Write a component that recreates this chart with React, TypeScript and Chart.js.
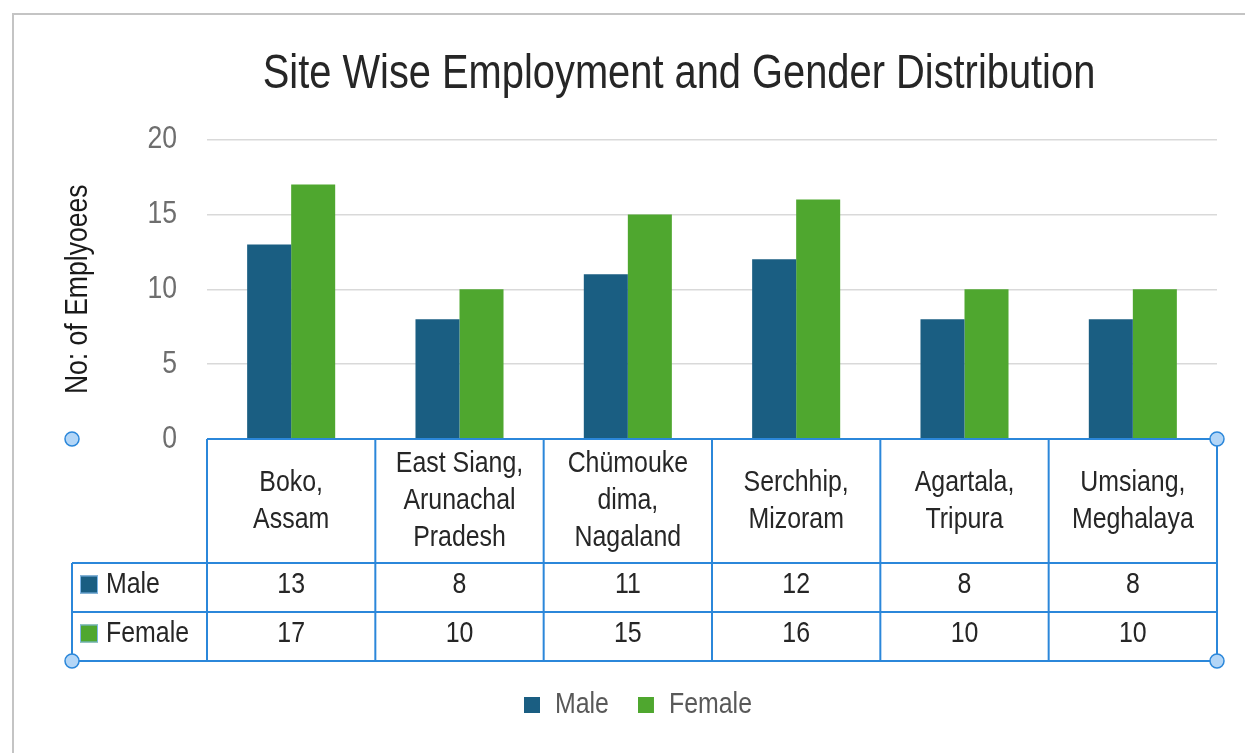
import React, { useEffect, useRef } from "react";
import { Chart, registerables } from "chart.js";

Chart.register(...registerables);

const categories: string[][] = [
  ["Boko,", "Assam"],
  ["East Siang,", "Arunachal", "Pradesh"],
  ["Chümouke", "dima,", "Nagaland"],
  ["Serchhip,", "Mizoram"],
  ["Agartala,", "Tripura"],
  ["Umsiang,", "Meghalaya"],
];
const seriesNames = ["Male", "Female"];
const maleValues = [13, 8, 11, 12, 8, 8];
const femaleValues = [17, 10, 15, 16, 10, 10];
const seriesColors = ["#1a5e82", "#4fa72f"];
const titleText = "Site Wise Employment and Gender Distribution";
const yTitleText = "No: of Emplyoees";

const FONT = "'Liberation Sans', Arial, sans-serif";
// horizontal condensing of all text (the reference uses a narrow face)
const SX = 0.83;

function condenseText(ctx: any) {
  if (ctx.__condensed) return;
  ctx.__condensed = true;
  const origFill = ctx.fillText.bind(ctx);
  const origMeasure = ctx.measureText.bind(ctx);
  ctx.fillText = (text: string, x: number, y: number, maxWidth?: number) => {
    ctx.save();
    ctx.translate(x, y);
    ctx.scale(SX, 1);
    if (maxWidth !== undefined && maxWidth !== null) origFill(text, 0, 0, maxWidth / SX);
    else origFill(text, 0, 0);
    ctx.restore();
  };
  ctx.measureText = (text: string) => {
    const m = origMeasure(text);
    return {
      width: m.width * SX,
      actualBoundingBoxAscent: m.actualBoundingBoxAscent,
      actualBoundingBoxDescent: m.actualBoundingBoxDescent,
      actualBoundingBoxLeft: m.actualBoundingBoxLeft * SX,
      actualBoundingBoxRight: m.actualBoundingBoxRight * SX,
      fontBoundingBoxAscent: m.fontBoundingBoxAscent,
      fontBoundingBoxDescent: m.fontBoundingBoxDescent,
    };
  };
}

const tablePlugin = {
  id: "dataTable",
  afterLayout(chart: any) {
    // centre the title a little right of the canvas centre, as in the reference
    const tb = chart.titleBlock;
    if (tb) {
      tb.left = 141;
      tb.right = chart.chartArea.right;
    }
  },
  beforeDraw(chart: any) {
    const { ctx, width, height } = chart;
    ctx.save();
    ctx.fillStyle = "#ffffff";
    ctx.fillRect(0, 0, width, height);
    ctx.strokeStyle = "#c4c4c4";
    ctx.lineWidth = 2;
    ctx.strokeRect(13, 14, width + 40, height + 40);
    ctx.restore();
  },
  afterDraw(chart: any) {
    const { ctx } = chart;
    const xs = chart.scales.x;
    const ca = chart.chartArea;
    const top = ca.bottom;
    const bottom = xs.bottom;
    const rowH = 49;
    const headerBottom = bottom - 2 * rowH;
    const n = categories.length;
    const step = xs.getPixelForValue(1) - xs.getPixelForValue(0);
    const legendLeft = 72;
    const left = ca.left;
    const right = ca.right;
    const rows = [maleValues, femaleValues];

    ctx.save();
    ctx.strokeStyle = "#2b87da";
    ctx.lineWidth = 2;
    ctx.beginPath();
    ctx.moveTo(left, top);
    ctx.lineTo(right, top);
    for (let r = 0; r <= 2; r++) {
      const y = headerBottom + r * rowH;
      ctx.moveTo(legendLeft, y);
      ctx.lineTo(right, y);
    }
    for (let i = 0; i <= n; i++) {
      const x = i === n ? right : xs.getPixelForValue(i) - step / 2;
      ctx.moveTo(x, top);
      ctx.lineTo(x, bottom);
    }
    ctx.moveTo(legendLeft, headerBottom);
    ctx.lineTo(legendLeft, bottom);
    ctx.stroke();

    ctx.fillStyle = "#262626";
    ctx.font = `30px ${FONT}`;
    ctx.textAlign = "center";
    ctx.textBaseline = "middle";
    const lh = 37;
    const hc = (top + headerBottom) / 2;
    categories.forEach((lines, i) => {
      const cx = xs.getPixelForValue(i);
      const y0 = hc - ((lines.length - 1) * lh) / 2;
      lines.forEach((t, k) => ctx.fillText(t, cx, y0 + k * lh));
    });
    rows.forEach((vals, r) => {
      const cy = headerBottom + r * rowH + rowH / 2 - 3;
      ctx.fillStyle = "#262626";
      vals.forEach((v, i) => ctx.fillText(String(v), xs.getPixelForValue(i), cy));
      ctx.fillStyle = seriesColors[r];
      ctx.fillRect(80, cy - 9, 18, 18);
      ctx.strokeStyle = "#7fb6e8";
      ctx.lineWidth = 1;
      ctx.strokeRect(80.5, cy - 8.5, 17, 17);
      ctx.fillStyle = "#262626";
      ctx.textAlign = "left";
      ctx.fillText(seriesNames[r], 106, cy);
      ctx.textAlign = "center";
    });

    const handles = [
      [legendLeft, top],
      [right, top],
      [legendLeft, bottom],
      [right, bottom],
    ];
    handles.forEach(([hx, hy]) => {
      ctx.beginPath();
      ctx.arc(hx, hy, 7, 0, Math.PI * 2);
      ctx.fillStyle = "#b3d6f7";
      ctx.fill();
      ctx.strokeStyle = "#2b87da";
      ctx.lineWidth = 1.5;
      ctx.stroke();
    });
    ctx.restore();
  },
};

export default function App() {
  const ref = useRef<HTMLCanvasElement>(null);
  useEffect(() => {
    if (!ref.current) return;
    const ctx2d = ref.current.getContext("2d");
    condenseText(ctx2d);
    const chart = new Chart(ref.current, {
      type: "bar",
      data: {
        labels: categories,
        datasets: [
          {
            label: seriesNames[0],
            data: maleValues,
            backgroundColor: seriesColors[0],
            borderWidth: 0,
            barPercentage: 1,
            categoryPercentage: 0.523,
          },
          {
            label: seriesNames[1],
            data: femaleValues,
            backgroundColor: seriesColors[1],
            borderWidth: 0,
            barPercentage: 1,
            categoryPercentage: 0.523,
          },
        ],
      },
      options: {
        responsive: false,
        animation: false,
        devicePixelRatio: 1,
        layout: { padding: { left: 59, right: 28, top: 0, bottom: 23 } },
        font: { family: FONT },
        plugins: {
          title: {
            display: true,
            text: titleText,
            color: "#262626",
            font: { size: 48, weight: "normal", family: FONT, lineHeight: 1.2 },
            padding: { top: 46, bottom: 36 },
          },
          legend: {
            position: "bottom",
            labels: {
              boxWidth: 16,
              boxHeight: 16,
              padding: 29,
              color: "#595959",
              font: { size: 30, family: FONT },
            },
          },
          tooltip: { enabled: false },
        },
        scales: {
          x: {
            grid: { display: false, drawTicks: false },
            border: { display: false },
            ticks: { display: false },
            afterFit: (s: any) => {
              s.height = 222;
            },
          },
          y: {
            min: 0,
            max: 20,
            ticks: {
              stepSize: 5,
              padding: 30,
              color: "#6e6e6e",
              font: { size: 32, family: FONT },
            },
            grid: { color: "#d9d9d9", lineWidth: 1.5, drawTicks: false },
            border: { display: false },
            title: {
              display: true,
              text: yTitleText,
              color: "#1a1a1a",
              font: { size: 32, family: FONT, lineHeight: 1.2 },
              padding: 0,
            },
            afterFit: (s: any) => {
              s.width = 148;
            },
          },
        },
      },
      plugins: [tablePlugin],
    });
    return () => chart.destroy();
  }, []);
  return (
    <div style={{ position: "fixed", left: 0, top: 0, width: 1245, height: 753 }}>
      <canvas ref={ref} width={1245} height={753} />
    </div>
  );
}
